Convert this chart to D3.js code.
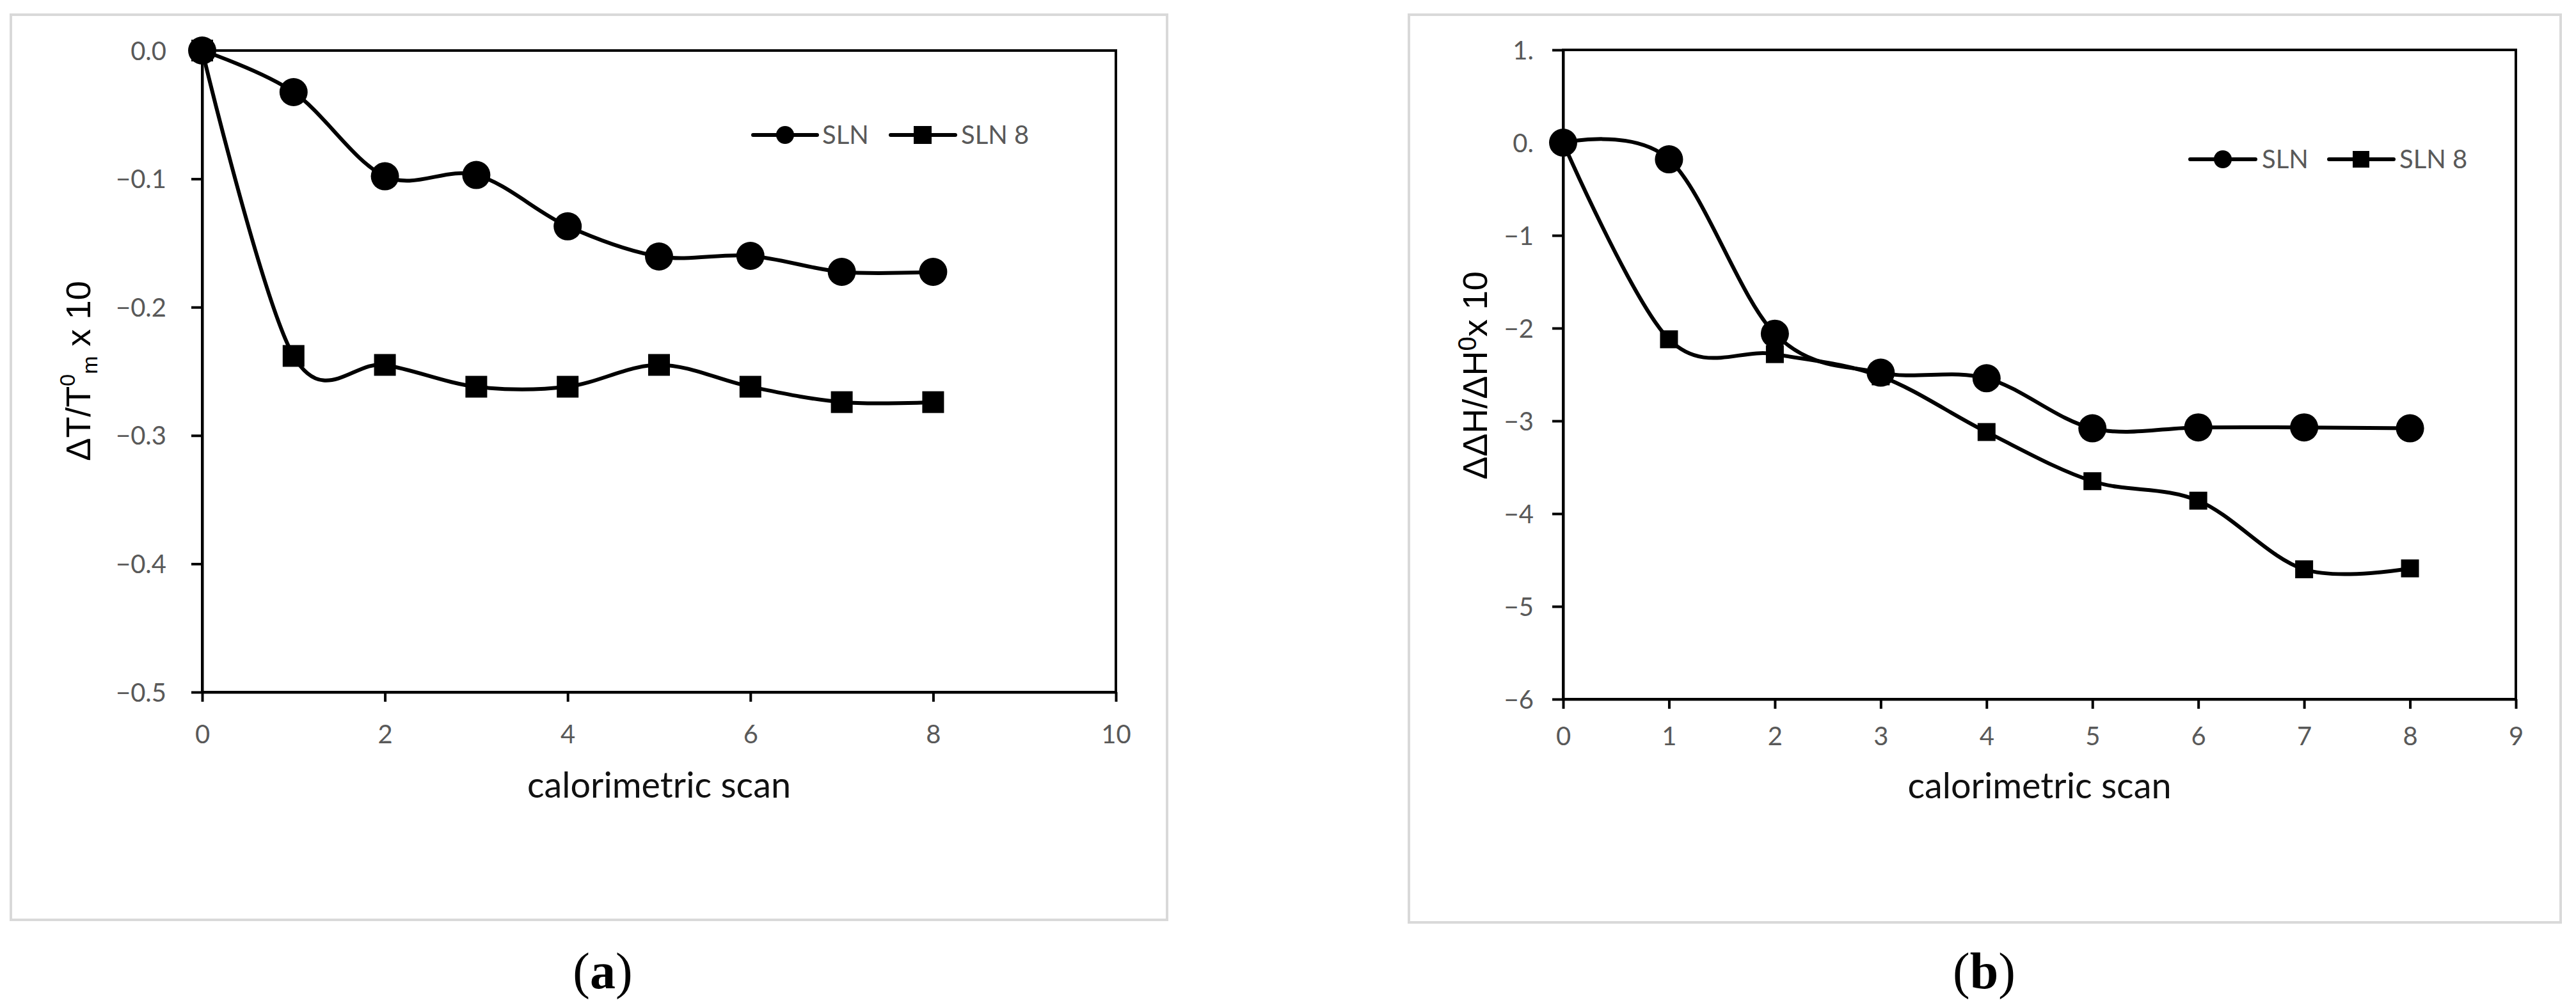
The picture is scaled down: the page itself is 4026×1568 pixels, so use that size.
<!DOCTYPE html>
<html><head><meta charset="utf-8">
<script src="https://cdn.jsdelivr.net/npm/d3@7"></script>
<style>body{margin:0;background:#fff}svg{display:block}</style>
</head><body>
<svg id="c" width="4026" height="1568"></svg>
<script>
// ---------- data ----------
const scans = [0, 1, 2, 3, 4, 5, 6, 7, 8];
const seriesNames = ["SLN", "SLN 8"];
const dTm_SLN  = [0, -0.0324, -0.098, -0.097, -0.137, -0.1605, -0.160, -0.1725, -0.1725];
const dTm_SLN8 = [0, -0.238, -0.245, -0.262, -0.262, -0.245, -0.262, -0.274, -0.274];
const dH_SLN   = [0, -0.18, -2.06, -2.48, -2.54, -3.08, -3.07, -3.07, -3.08];
const dH_SLN8  = [0, -2.12, -2.28, -2.52, -3.12, -3.65, -3.86, -4.60, -4.59];
const xTicksA = [0, 2, 4, 6, 8, 10];
const yTicksA = [0, -0.1, -0.2, -0.3, -0.4, -0.5];
const yTickLabelsA = ["0.0", "\u22120.1", "\u22120.2", "\u22120.3", "\u22120.4", "\u22120.5"];
const xTicksB = [0, 1, 2, 3, 4, 5, 6, 7, 8, 9];
const yTicksB = [1, 0, -1, -2, -3, -4, -5, -6];
const yTickLabelsB = ["1.", "0.", "\u22121", "\u22122", "\u22123", "\u22124", "\u22125", "\u22126"];
const xTitle = "calorimetric scan";

// ---------- layout ----------
const panels = [
  {
    label: "a", labelX: 942,
    frame: {x: 17, y: 23, w: 1807, h: 1415},
    plot: {l: 316, r: 1744, t: 79, b: 1082},
    xDom: [0, 10], yDom: [-0.5, 0],
    xTicks: xTicksA, yTicks: yTicksA, yLabels: yTickLabelsA,
    yGap: 56, xLabelY: 1148, xTitleBase: 1247,
    series: [dTm_SLN, dTm_SLN8],
    circR: 22, sq: 34,
    yTitle: {x: 141, y: 580, parts: [
      {t: "\u0394T/T", s: 54, dy: 0},
      {t: "0", s: 34, dy: -24},
      {t: "m", s: 34, dy: 35},
      {t: " x 10", s: 54, dy: -11}]},
    legend: {y: 211, lr: 14, ls: 28, items: [
      {x0: 1177, x1: 1277, cx: 1227, tx: 1285},
      {x0: 1392, x1: 1493, cx: 1442, tx: 1502}]}
  },
  {
    label: "b", labelX: 3101,
    frame: {x: 2202, y: 23, w: 1800, h: 1419},
    plot: {l: 2443, r: 3932, t: 78, b: 1093},
    xDom: [0, 9], yDom: [-6, 1],
    xTicks: xTicksB, yTicks: yTicksB, yLabels: yTickLabelsB,
    yGap: 46, xLabelY: 1151, xTitleBase: 1248,
    series: [dH_SLN, dH_SLN8],
    circR: 22, sq: 28,
    yTitle: {x: 2324, y: 587, parts: [
      {t: "\u0394\u0394H/\u0394H", s: 54, dy: 0},
      {t: "0", s: 40, dy: -17},
      {t: "x 10", s: 54, dy: 17}]},
    legend: {y: 249, lr: 14, ls: 26, items: [
      {x0: 3423, x1: 3525, cx: 3474, tx: 3535},
      {x0: 3640, x1: 3741, cx: 3690, tx: 3750}]}
  }
];

const svg = d3.select("#c");
svg.append("rect").attr("width", 4026).attr("height", 1568).attr("fill", "#fff");

const tickFont = "Lato, 'Open Sans', sans-serif";
const tickColor = "#595959";

panels.forEach(p => {
  const g = svg.append("g");
  // outer light border
  g.append("rect").attr("x", p.frame.x).attr("y", p.frame.y)
    .attr("width", p.frame.w).attr("height", p.frame.h)
    .attr("fill", "#fff").attr("stroke", "#d9d9d9").attr("stroke-width", 4);

  const x = d3.scaleLinear().domain(p.xDom).range([p.plot.l, p.plot.r]);
  const y = d3.scaleLinear().domain(p.yDom).range([p.plot.b, p.plot.t]);

  // plot frame
  g.append("rect").attr("x", p.plot.l).attr("y", p.plot.t)
    .attr("width", p.plot.r - p.plot.l).attr("height", p.plot.b - p.plot.t)
    .attr("fill", "none").attr("stroke", "#000").attr("stroke-width", 4);

  // y axis
  const ya = g.append("g").attr("transform", `translate(${p.plot.l},0)`)
    .call(d3.axisLeft(y).tickValues(p.yTicks)
      .tickFormat((d, i) => p.yLabels[i])
      .tickSizeInner(17).tickSizeOuter(0).tickPadding(p.yGap - 17));
  ya.select(".domain").attr("stroke", "#000").attr("stroke-width", 4);
  ya.selectAll(".tick line").attr("stroke", "#000").attr("stroke-width", 4);
  ya.selectAll(".tick text").attr("font-family", tickFont).attr("font-size", 40)
    .attr("fill", tickColor).attr("dy", "0.35em");

  // x axis
  const xa = g.append("g").attr("transform", `translate(0,${p.plot.b})`)
    .call(d3.axisBottom(x).tickValues(p.xTicks).tickFormat(d3.format("d"))
      .tickSizeInner(15).tickSizeOuter(0));
  xa.select(".domain").attr("stroke", "#000").attr("stroke-width", 4);
  xa.selectAll(".tick line").attr("stroke", "#000").attr("stroke-width", 4);
  xa.selectAll(".tick text").attr("font-family", tickFont).attr("font-size", 40)
    .attr("fill", tickColor).attr("y", p.xLabelY - p.plot.b).attr("dy", "0.35em");

  // x title, fitted to reference width
  const xt = g.append("text").attr("x", (p.plot.l + p.plot.r) / 2).attr("y", p.xTitleBase)
    .attr("text-anchor", "middle").attr("font-family", tickFont)
    .attr("font-size", 52).attr("fill", "#111").text(xTitle);
  const w = xt.node().getComputedTextLength();
  xt.attr("font-size", 52 * 412 / w);

  // y title
  const yt = g.append("text")
    .attr("transform", `translate(${p.yTitle.x},${p.yTitle.y}) rotate(-90)`)
    .attr("text-anchor", "middle")
    .attr("font-family", "'Liberation Sans', Arial, sans-serif").attr("fill", "#000");
  p.yTitle.parts.forEach(pt => {
    yt.append("tspan").attr("font-size", pt.s).attr("dy", pt.dy).text(pt.t);
  });

  // series lines
  const line = d3.line()
    .x((d, i) => x(scans[i])).y(d => y(d))
    .curve(d3.curveCardinal.tension(0));
  p.series.forEach(s => {
    g.append("path").attr("d", line(s)).attr("fill", "none")
      .attr("stroke", "#000").attr("stroke-width", 6).attr("stroke-linejoin", "round");
  });

  // markers
  g.append("g").selectAll("circle").data(p.series[0]).join("circle")
    .attr("cx", (d, i) => x(scans[i])).attr("cy", d => y(d)).attr("r", p.circR).attr("fill", "#000");
  g.append("g").selectAll("rect").data(p.series[1]).join("rect")
    .attr("x", (d, i) => x(scans[i]) - p.sq / 2).attr("y", d => y(d) - p.sq / 2)
    .attr("width", p.sq).attr("height", p.sq).attr("fill", "#000");

  // legend
  const L = p.legend;
  L.items.forEach((it, k) => {
    g.append("line").attr("x1", it.x0).attr("x2", it.x1).attr("y1", L.y).attr("y2", L.y)
      .attr("stroke", "#000").attr("stroke-width", 6).attr("stroke-linecap", "round");
    if (k === 0) {
      g.append("circle").attr("cx", it.cx).attr("cy", L.y).attr("r", L.lr).attr("fill", "#000");
    } else {
      g.append("rect").attr("x", it.cx - L.ls / 2).attr("y", L.y - L.ls / 2)
        .attr("width", L.ls).attr("height", L.ls).attr("fill", "#000");
    }
    g.append("text").attr("x", it.tx).attr("y", L.y).attr("dy", "0.35em")
      .attr("font-family", tickFont).attr("font-size", 40).attr("fill", tickColor)
      .text(seriesNames[k]);
  });

  // panel label
  const pl = svg.append("text").attr("x", p.labelX).attr("y", 1545)
    .attr("text-anchor", "middle").attr("font-family", "'Liberation Serif', 'Times New Roman', serif")
    .attr("font-size", 80).attr("fill", "#000");
  pl.append("tspan").text("(");
  pl.append("tspan").attr("font-weight", "bold").text(p.label);
  pl.append("tspan").text(")");
});
</script>
</body></html>
